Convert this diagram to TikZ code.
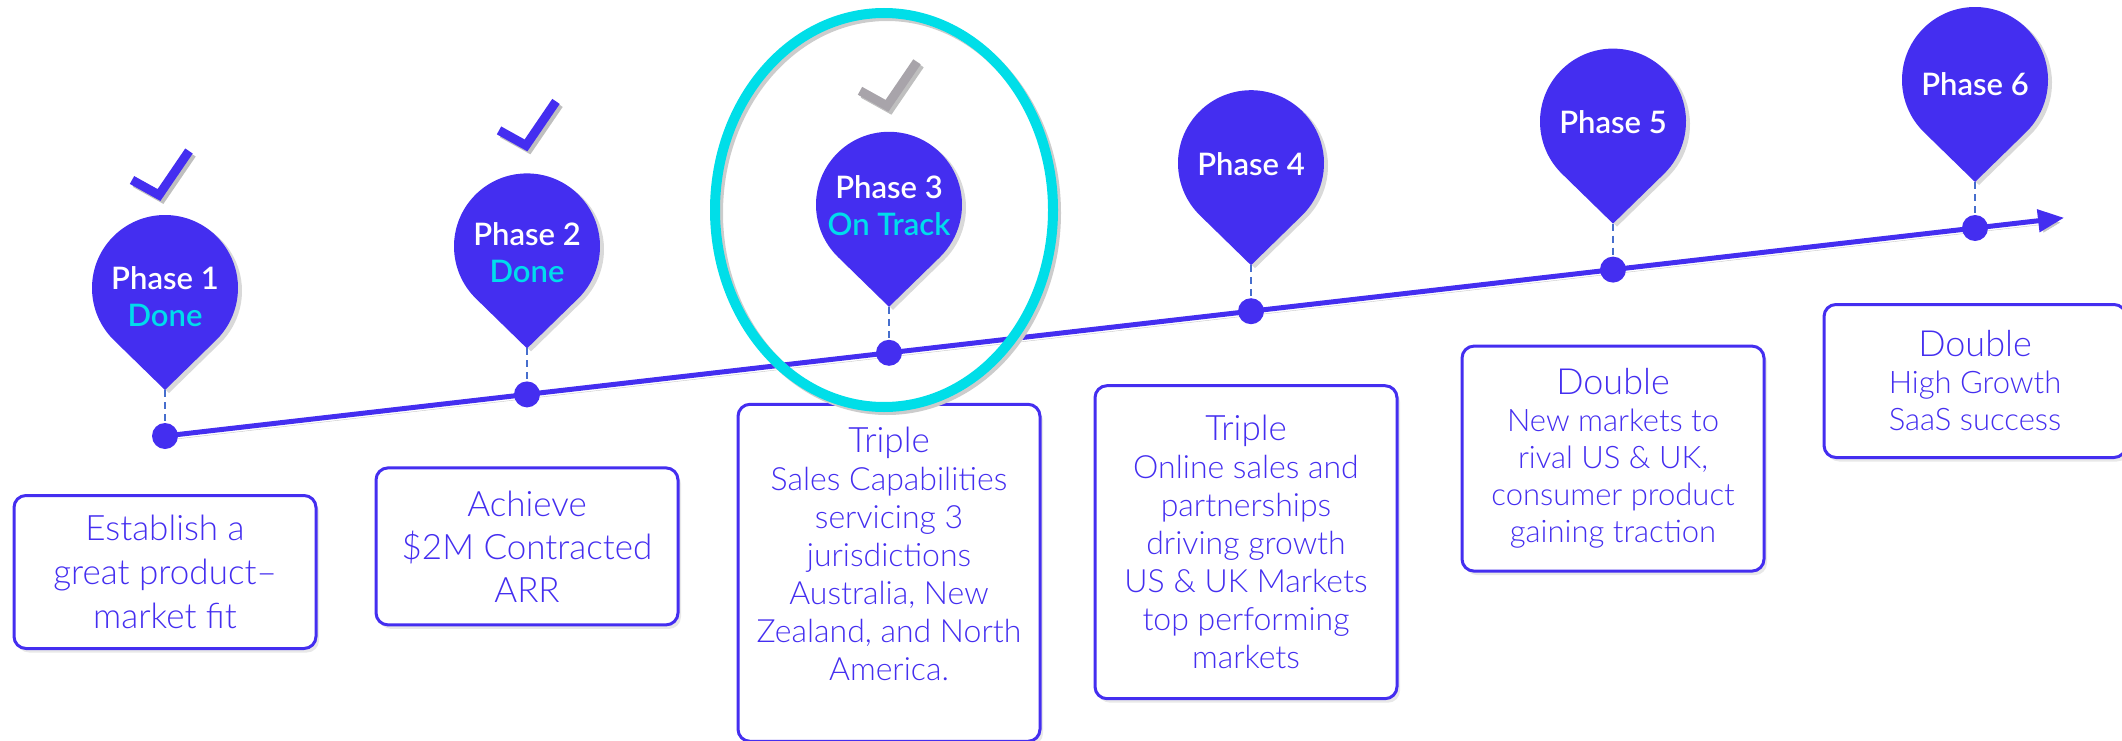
\documentclass[tikz,border=0pt]{standalone}
\usepackage{fontspec}
\setmainfont{Lato}
\newfontfamily\lightfont{Lato Light}
\newfontfamily\pinfont{Lato Semibold}
\usepackage{tikz}
\usetikzlibrary{arrows.meta,positioning,calc,backgrounds,shadows}

\definecolor{pinblue}{RGB}{68,46,240}
\definecolor{donecyan}{RGB}{0,220,236}
\definecolor{ringcyan}{RGB}{0,222,232}
\definecolor{stemblue}{RGB}{70,110,205}
\definecolor{tickgray}{RGB}{168,164,170}

\begin{document}
\begin{tikzpicture}
  [x=1pt,y=-1pt,
  phase/.style={inner sep=0pt,outer sep=0pt,text=white,align=center,font=\pinfont\fontsize{31}{37}\selectfont},
  milestone/.style={circle,fill=pinblue,inner sep=0pt,outer sep=0pt,minimum size=26pt},
  goal/.style={rectangle,rounded corners=12pt,draw=pinblue,line width=3pt,fill=white,text=pinblue,align=center,inner sep=0pt,minimum width=302pt,font=\lightfont\fontsize{32}{38}\selectfont,drop shadow={opacity=.18,shadow xshift=3pt,shadow yshift=-4pt}},
  pinshape/.style={fill=pinblue,drop shadow={opacity=.3,shadow xshift=4pt,shadow yshift=-3pt}},
  stem/.style={draw=stemblue,line width=2pt,dash pattern=on 7pt off 5pt},
  timeline/.style={draw=pinblue,line width=5pt,-{Triangle[length=26pt,width=22pt]},preaction={draw=black!22,transform canvas={xshift=2pt,yshift=-4pt}}},
  tick/.style={draw=pinblue,line width=9pt,preaction={draw=black!25,line width=9pt,transform canvas={xshift=3pt,yshift=-3pt}}},
  ring/.style={draw=ringcyan,line width=10pt,preaction={draw=black!20,line width=10pt,transform canvas={xshift=3pt,yshift=-3pt}}}
  ]
  \useasboundingbox (0,0) rectangle (2122,741);

  % milestones on the time line
  \node[milestone] (dot1) at (165,436) {};
  \node[milestone] (dot2) at (527,394.4) {};
  \node[milestone] (dot3) at (889,352.8) {};
  \node[milestone] (dot4) at (1251,311.2) {};
  \node[milestone] (dot5) at (1613,269.6) {};
  \node[milestone] (dot6) at (1975,228) {};
  \coordinate (tlend) at (2064,217.8);

  % pin heads and tips
  \coordinate (head1) at ($(dot1)+(0,-148)$);
  \coordinate (head2) at ($(dot2)+(0,-148)$);
  \coordinate (head3) at ($(dot3)+(0,-148)$);
  \coordinate (head4) at ($(dot4)+(0,-148)$);
  \coordinate (head5) at ($(dot5)+(0,-148)$);
  \coordinate (head6) at ($(dot6)+(0,-148)$);
  \coordinate (tip1) at ($(head1)+(0,102)$);
  \coordinate (tip2) at ($(head2)+(0,102)$);
  \coordinate (tip3) at ($(head3)+(0,102)$);
  \coordinate (tip4) at ($(head4)+(0,102)$);
  \coordinate (tip5) at ($(head5)+(0,102)$);
  \coordinate (tip6) at ($(head6)+(0,102)$);

  % phase labels
  \node[phase] (phase1) at ($(head1)+(0,9)$) {Phase 1\\\textcolor{donecyan}{Done}};
  \node[phase] (phase2) at ($(head2)+(0,6)$) {Phase 2\\\textcolor{donecyan}{Done}};
  \node[phase] (phase3) at ($(head3)+(0,1)$) {Phase 3\\\textcolor{donecyan}{On Track}};
  \node[phase] (phase4) at ($(head4)+(0,1)$) {Phase 4};
  \node[phase] (phase5) at ($(head5)+(0,1)$) {Phase 5};
  \node[phase] (phase6) at ($(head6)+(0,4)$) {Phase 6};

  \begin{scope}[on background layer]
    \draw[timeline] (dot1.center) -- (tlend);
    \fill[pinshape] (tip1) -- ($(head1)+(-134:73pt)$) arc[start angle=226,end angle=-46,radius=73pt] -- cycle;
    \fill[pinshape] (tip2) -- ($(head2)+(-134:73pt)$) arc[start angle=226,end angle=-46,radius=73pt] -- cycle;
    \fill[pinshape] (tip3) -- ($(head3)+(-134:73pt)$) arc[start angle=226,end angle=-46,radius=73pt] -- cycle;
    \fill[pinshape] (tip4) -- ($(head4)+(-134:73pt)$) arc[start angle=226,end angle=-46,radius=73pt] -- cycle;
    \fill[pinshape] (tip5) -- ($(head5)+(-134:73pt)$) arc[start angle=226,end angle=-46,radius=73pt] -- cycle;
    \fill[pinshape] (tip6) -- ($(head6)+(-134:73pt)$) arc[start angle=226,end angle=-46,radius=73pt] -- cycle;
    \draw[stem] (tip1) -- (dot1.center);
    \draw[stem] (tip2) -- (dot2.center);
    \draw[stem] (tip3) -- (dot3.center);
    \draw[stem] (tip4) -- (dot4.center);
    \draw[stem] (tip5) -- (dot5.center);
    \draw[stem] (tip6) -- (dot6.center);
  \end{scope}

  % ticks for finished phases
  \draw[tick] ($(head1)+(-33,-108)$) -- ++(27,15) -- ++(30,-44);
  \draw[tick] ($(head2)+(-28,-116)$) -- ++(27,15) -- ++(30,-44);
  \draw[tick,draw=tickgray] ($(head3)+(-29,-114)$) -- ++(27,15) -- ++(30,-44);

  % goals
  \node[goal,minimum height=153pt,font=\lightfont\fontsize{35}{44}\selectfont] (goal1) [below=45pt of dot1]
    {Establish a\\great product–\\market fit};
  \node[goal,minimum height=157pt,font=\lightfont\fontsize{35}{43}\selectfont] (goal2) [below=59pt of dot2]
    {Achieve\\\$2M Contracted\\ARR};
  \node[goal,minimum height=337pt] (goal3) [below=37pt of dot3]
    {{\fontsize{35}{38}\selectfont Triple}\\Sales Capabilities\\servicing 3\\jurisdictions\\Australia, New\\Zealand, and North\\America.\\~};
  \node[goal,minimum height=313pt,xshift=-5pt] (goal4) [below=60pt of dot4]
    {{\fontsize{35}{38}\selectfont Triple}\\Online sales and\\partnerships\\driving growth\\US \& UK Markets\\top performing\\markets};
  \node[goal,minimum height=225pt,font=\lightfont\fontsize{31}{37}\selectfont] (goal5) [below=62pt of dot5]
    {{\fontsize{36}{40}\selectfont Double}\\New markets to\\rival US \& UK,\\consumer product\\gaining traction};
  \node[goal,minimum height=153pt,font=\lightfont\fontsize{31}{37}\selectfont] (goal6) [below=62pt of dot6]
    {{\fontsize{36}{40}\selectfont Double}\\High Growth\\SaaS success};

  % current phase
  \draw[ring] (884,210) ellipse[x radius=169,y radius=197];
\end{tikzpicture}
\end{document}
